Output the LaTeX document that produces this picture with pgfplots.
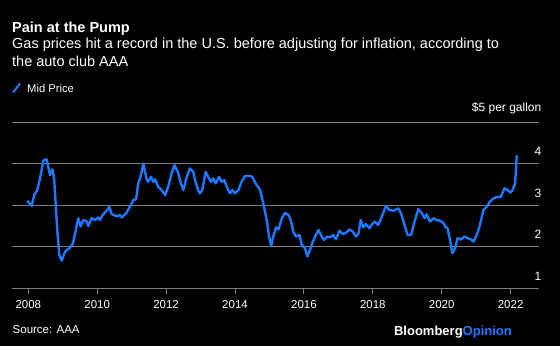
\documentclass[border=0pt]{standalone}
\usepackage{pgfplots}
\pgfplotsset{compat=1.18}
\usepackage{fontspec}
\setmainfont{Liberation Sans}
\definecolor{bblue}{RGB}{30,120,255}
\definecolor{gridc}{RGB}{125,125,125}
\begin{document}
\begin{tikzpicture}
\fill[black] (0,0) rectangle (560bp,346bp);
\node[anchor=base west,inner sep=0,text=white] at (12bp,313.7bp) {\fontsize{14.5bp}{17bp}\selectfont\bfseries Pain at the Pump};
\node[anchor=base west,inner sep=0,text=white] at (12bp,297bp) {\fontsize{14.5bp}{16bp}\selectfont Gas prices hit a record in the U.S. before adjusting for inflation, according to};
\node[anchor=base west,inner sep=0,text=white] at (12bp,279.3bp) {\fontsize{14.5bp}{16bp}\selectfont the auto club AAA};
\draw[bblue,line width=2bp] (13bp,253.5bp) -- (20bp,262.5bp);
\node[anchor=base west,inner sep=0,text=white] at (27bp,253bp) {\fontsize{11.2bp}{13bp}\selectfont Mid Price};
\node[anchor=base west,inner sep=0,text=white] at (12.5bp,12.7bp) {\fontsize{11.5bp}{13bp}\selectfont Source: AAA};
\node[anchor=base east,inner sep=0] at (512bp,11bp) {\fontsize{13bp}{15bp}\selectfont\bfseries\textcolor{white}{Bloomberg}\textcolor{bblue}{Opinion}};
\begin{axis}[
  at={(12bp,58bp)}, anchor=south west, scale only axis,
  width=527bp, height=166bp,
  xmin=2007.527, xmax=2022.824, ymin=1, ymax=5,
  axis line style={draw=none},
  ytick={1,2,3,4,5},
  yticklabels={1,2,3,4,\$5 per gallon},
  ymajorgrids, major grid style={gridc,line width=0.9bp},
  ytick style={draw=none},
  yticklabel pos=right,
  yticklabel style={anchor=south east,inner sep=0,xshift=-3bp,yshift=7.5bp,text=white,font=\fontsize{12bp}{14bp}\selectfont},
  xtick={2008,2010,2012,2014,2016,2018,2020,2022},
  xticklabels={2008,2010,2012,2014,2016,2018,2020,2022},
  xtick pos=bottom, tick align=outside, major tick length=5.5bp,
  xtick style={gridc,line width=0.9bp},
  xticklabel style={text=white,font=\fontsize{11.5bp}{13bp}\selectfont,yshift=-3bp},
  clip=false,
]
\addplot[bblue,line width=2.4bp,line join=round] coordinates {
(2007.97,3.10) (2008.10,2.98) (2008.17,3.24) (2008.26,3.36) (2008.34,3.64)
(2008.44,4.08) (2008.53,4.10) (2008.63,3.72) (2008.70,3.86) (2008.75,3.64)
(2008.84,2.40) (2008.90,1.80) (2008.97,1.66) (2009.07,1.88) (2009.19,1.96)
(2009.29,2.06) (2009.36,2.32) (2009.45,2.68) (2009.52,2.49) (2009.60,2.64)
(2009.70,2.60) (2009.74,2.49) (2009.84,2.68) (2009.94,2.64) (2010.03,2.70)
(2010.08,2.64) (2010.16,2.76) (2010.29,2.88) (2010.35,2.96) (2010.42,2.78)
(2010.57,2.73) (2010.66,2.76) (2010.71,2.70) (2010.84,2.80) (2010.95,2.96)
(2011.05,3.12) (2011.13,3.14) (2011.19,3.52) (2011.26,3.68) (2011.34,4.00)
(2011.44,3.60) (2011.48,3.56) (2011.56,3.68) (2011.63,3.56) (2011.68,3.62)
(2011.77,3.44) (2011.87,3.36) (2011.97,3.24) (2012.06,3.44) (2012.16,3.76)
(2012.24,3.96) (2012.34,3.80) (2012.43,3.52) (2012.50,3.36) (2012.60,3.68)
(2012.69,3.88) (2012.79,3.80) (2012.84,3.60) (2012.93,3.36) (2012.98,3.28)
(2013.05,3.36) (2013.15,3.80) (2013.22,3.68) (2013.30,3.56) (2013.37,3.64)
(2013.44,3.52) (2013.54,3.68) (2013.61,3.56) (2013.69,3.60) (2013.76,3.44)
(2013.85,3.28) (2013.92,3.36) (2014.00,3.28) (2014.10,3.36) (2014.19,3.56)
(2014.29,3.70) (2014.44,3.70) (2014.50,3.68) (2014.60,3.52) (2014.73,3.36)
(2014.82,3.04) (2014.92,2.64) (2014.99,2.24) (2015.05,2.01) (2015.11,2.24)
(2015.19,2.46) (2015.26,2.41) (2015.36,2.68) (2015.45,2.81) (2015.55,2.76)
(2015.62,2.64) (2015.69,2.36) (2015.77,2.24) (2015.87,2.28) (2015.94,2.04)
(2016.03,1.96) (2016.10,1.76) (2016.18,1.92) (2016.26,2.12) (2016.35,2.28)
(2016.42,2.40) (2016.52,2.24) (2016.58,2.16) (2016.68,2.24) (2016.76,2.22)
(2016.85,2.28) (2016.93,2.17) (2017.03,2.38) (2017.13,2.30) (2017.22,2.33)
(2017.32,2.41) (2017.42,2.36) (2017.51,2.24) (2017.58,2.30) (2017.65,2.64)
(2017.72,2.46) (2017.80,2.54) (2017.90,2.44) (2018.00,2.56) (2018.06,2.60)
(2018.16,2.52) (2018.26,2.72) (2018.38,2.98) (2018.48,2.88) (2018.60,2.86)
(2018.74,2.92) (2018.82,2.80) (2018.92,2.52) (2019.01,2.28) (2019.11,2.28)
(2019.21,2.60) (2019.32,2.90) (2019.42,2.81) (2019.50,2.68) (2019.56,2.78)
(2019.66,2.60) (2019.76,2.68) (2019.85,2.64) (2019.95,2.62) (2020.05,2.57)
(2020.10,2.48) (2020.17,2.44) (2020.24,2.16) (2020.31,1.84) (2020.39,1.96)
(2020.46,2.20) (2020.56,2.17) (2020.66,2.24) (2020.75,2.20) (2020.85,2.17)
(2020.92,2.12) (2021.02,2.28) (2021.11,2.52) (2021.21,2.88) (2021.31,2.96)
(2021.40,3.08) (2021.50,3.16) (2021.60,3.19) (2021.72,3.20) (2021.82,3.40)
(2021.92,3.36) (2021.99,3.30) (2022.05,3.35) (2022.13,3.52) (2022.18,4.20)
};
\end{axis}
\end{tikzpicture}
\end{document}
